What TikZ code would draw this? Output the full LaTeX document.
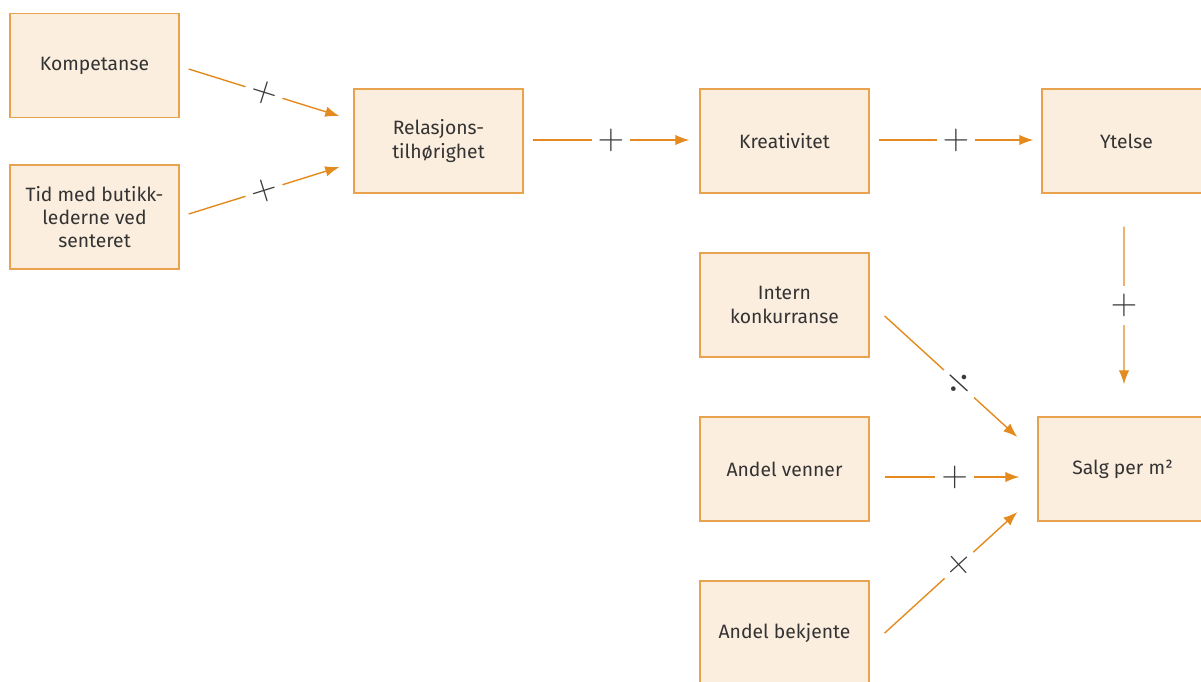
\documentclass[tikz,border=0pt]{standalone}
\usepackage{fontspec}
\setmainfont{Fira Sans}
\usepackage{tikz}
\usetikzlibrary{arrows.meta, positioning}
\definecolor{boxfill}{HTML}{FBEEDE}
\definecolor{boxline}{HTML}{E9A24E}
\definecolor{arrowcol}{HTML}{E38B1E}
\definecolor{signcol}{HTML}{3A3A3A}
\definecolor{textcol}{HTML}{333333}
\tikzset{>={Latex[length=8pt,width=6pt]}}
\tikzset{font=\fontsize{11}{13.3}\selectfont}
\tikzset{factor/.style={draw=boxline, fill=boxfill, line width=0.8pt,
    minimum width=3.38cm, minimum height=2.08cm, align=center, text=textcol},
  link/.style={->, draw=arrowcol, line width=0.8pt},
  signmark/.style={sloped, fill=white, inner sep=3.5pt, text=signcol,
    font=\fontsize{22}{22}\selectfont}}

\begin{document}
\begin{tikzpicture}[x=0.02cm, y=-0.02cm]
  \clip (0,0) rectangle (1201,681);
  % boxes
  \node[factor] (komp) at (94.5,65.5) {Kompetanse};
  \node[factor] (tid) at (94.5,217) {Tid med butikk-\\lederne ved\\senteret};
  \node[factor] (rel) at (438.5,141) {Relasjons-\\tilhørighet};
  \node[factor] (krea) at (784.5,141) {Kreativitet};
  \node[factor] (ytelse) at (1126.5,141) {Ytelse};
  \node[factor] (intern) at (784.5,305) {Intern\\konkurranse};
  \node[factor] (venner) at (784.5,469) {Andel venner};
  \node[factor] (bekj) at (784.5,633) {Andel bekjente};
  \node[factor] (salg) at (1122.5,469) {Salg per m²};
  % connectors
  \draw[link] ([shift={(9,3.5)}]komp.east) -- node[signmark] {$+$} ([shift={(-14,-25)}]rel.west);
  \draw[link] ([shift={(9,-3)}]tid.east) -- node[signmark] {$+$} ([shift={(-14,26)}]rel.west);
  \draw[link] ([shift={(9,-1)}]rel.east) -- node[signmark] {$+$} ([shift={(-10,-1)}]krea.west);
  \draw[link] ([shift={(9,-1)}]krea.east) -- node[signmark] {$+$} ([shift={(-8,-1)}]ytelse.west);
  \draw[link] ([shift={(-2.5,33)}]ytelse.south) -- node[signmark] {$+$} ([shift={(1.5,-32)}]salg.north);
  \draw[link] ([shift={(15,11)}]intern.east) -- node[signmark, pos=0.56] {$\div$} ([shift={(-20,-32)}]salg.west);
  \draw[link] ([shift={(15,8)}]venner.east) -- node[signmark, pos=0.52] {$+$} ([shift={(-18,8)}]salg.west);
  \draw[link] ([shift={(15,0)}]bekj.east) -- node[signmark, pos=0.56] {$+$} ([shift={(-20,43)}]salg.west);
\end{tikzpicture}
\end{document}
